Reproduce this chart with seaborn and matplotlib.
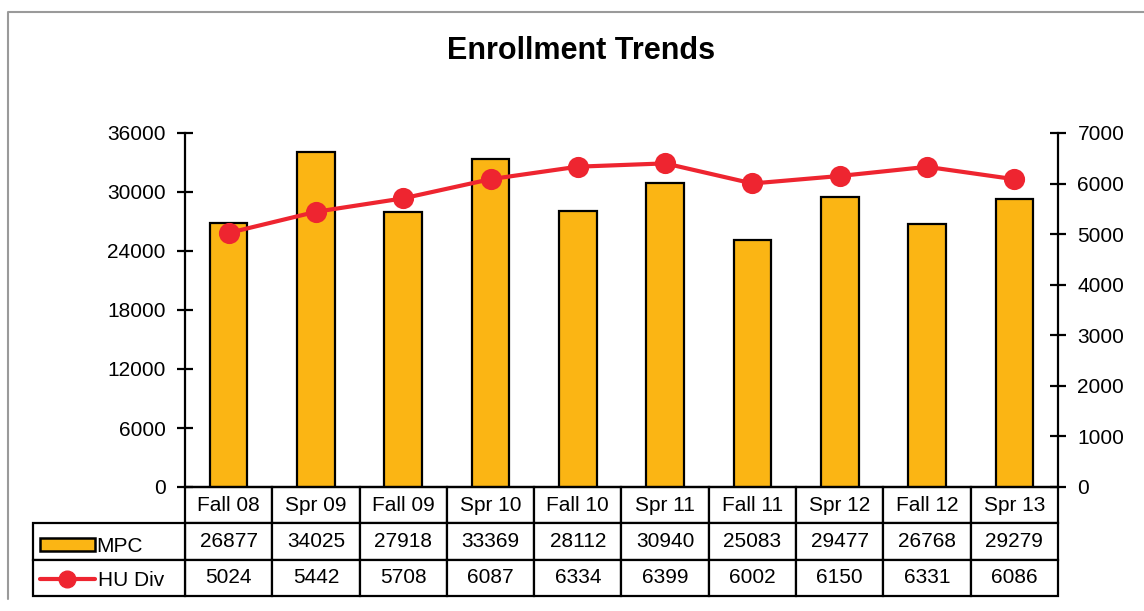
import matplotlib
matplotlib.use("Agg")
import matplotlib.pyplot as plt
import seaborn as sns
import pandas as pd
from matplotlib.patches import Rectangle
from matplotlib.lines import Line2D

sns.set_style("white")
plt.rcParams['font.family'] = ['Liberation Sans', 'DejaVu Sans']
plt.rcParams['text.color'] = 'black'
plt.rcParams['xtick.color'] = 'black'
plt.rcParams['ytick.color'] = 'black'
plt.rcParams['axes.edgecolor'] = 'black'

categories = ["Fall 08", "Spr 09", "Fall 09", "Spr 10", "Fall 10",
              "Spr 11", "Fall 11", "Spr 12", "Fall 12", "Spr 13"]
mpc = [26877, 34025, 27918, 33369, 28112, 30940, 25083, 29477, 26768, 29279]
hu_div = [5024, 5442, 5708, 6087, 6334, 6399, 6002, 6150, 6331, 6086]
left_ticks = [0, 6000, 12000, 18000, 24000, 30000, 36000]
right_ticks = [0, 1000, 2000, 3000, 4000, 5000, 6000, 7000]

BAR = "#FBB514"
RED = "#EE2530"
W, H = 1144, 611
FS = 15

fig = plt.figure(figsize=(W / 100, H / 100), dpi=100)
fig.patch.set_facecolor("white")

L, R, T, B = 185, 1058, 133, 487
ax = fig.add_axes([L / W, 1 - B / H, (R - L) / W, (B - T) / H])
df = pd.DataFrame({"term": categories, "MPC": mpc, "HU": hu_div})

sns.barplot(data=df, x="term", y="MPC", ax=ax, color=BAR, edgecolor="black",
            linewidth=1.6, width=0.43, saturation=1)
ax.set_ylim(0, 36000)
ax.set_yticks(left_ticks)
ax.set_yticklabels([str(t) for t in left_ticks], fontsize=FS)
ax.set_xticks([])
ax.set_xlabel("")
ax.set_ylabel("")
for s in ["top", "right"]:
    ax.spines[s].set_visible(False)
ax.spines["left"].set_linewidth(1.6)
ax.spines["bottom"].set_linewidth(1.6)
ax.tick_params(axis="y", direction="inout", length=12, width=1.6, pad=8)

ax2 = ax.twinx()
sns.pointplot(data=df, x="term", y="HU", ax=ax2, color=RED, markers="o",
              markersize=13, linewidth=3)
ax2.set_ylim(0, 7000)
ax2.set_yticks(right_ticks)
ax2.set_yticklabels([str(t) for t in right_ticks], fontsize=FS)
ax2.set_ylabel("")
ax2.set_xlim(-0.5, 9.5)
ax.set_xlim(-0.5, 9.5)
for s in ["top", "left", "bottom"]:
    ax2.spines[s].set_visible(False)
ax2.spines["right"].set_linewidth(1.6)
ax2.tick_params(axis="y", direction="inout", length=12, width=1.6, pad=8)

# data table
th = (596 - B) / (B - T)
cell_text = [categories, [str(v) for v in mpc], [str(v) for v in hu_div]]
tbl = ax.table(cellText=cell_text, cellLoc="center", bbox=[0, -th, 1, th])
tbl.auto_set_font_size(False)
tbl.set_fontsize(FS)
for (r, c), cell in tbl.get_celld().items():
    cell.set_linewidth(1.6)
    cell.set_edgecolor("black")
    cell.get_text().set_color("black")

lw_ = (L - 33) / (R - L)
lbl = ax.table(cellText=[[""], [""]], bbox=[-lw_, -th, lw_, th * 2 / 3])
for (r, c), cell in lbl.get_celld().items():
    cell.set_linewidth(1.6)
    cell.set_edgecolor("black")

# legend glyphs inside row-label cells
fig.patches.append(Rectangle((40 / W, 1 - 551 / H), 55 / W, 13 / H,
                             transform=fig.transFigure, facecolor=BAR,
                             edgecolor="black", linewidth=1.8))
fig.text(96 / W, 1 - 546 / H, "MPC", fontsize=FS, va="center", ha="left")
fig.lines.append(Line2D([40 / W, 95 / W], [1 - 579 / H, 1 - 579 / H],
                        transform=fig.transFigure, color=RED, linewidth=3))
fig.lines.append(Line2D([67 / W], [1 - 579 / H], transform=fig.transFigure,
                        color=RED, marker="o", markersize=12, linestyle="none"))
fig.text(98 / W, 1 - 580 / H, "HU Div", fontsize=FS, va="center", ha="left")

fig.text(581 / W, 1 - 51 / H, "Enrollment Trends", fontsize=22,
         fontweight="bold", ha="center", va="center")

# outer frame
fig.lines.append(Line2D([8 / W, 8 / W, 1.0], [0.02, 1 - 12 / H, 1 - 12 / H],
                        transform=fig.transFigure, color="#9a9a9a", linewidth=1.5))

fig.savefig("out.png", dpi=100, facecolor="white")
